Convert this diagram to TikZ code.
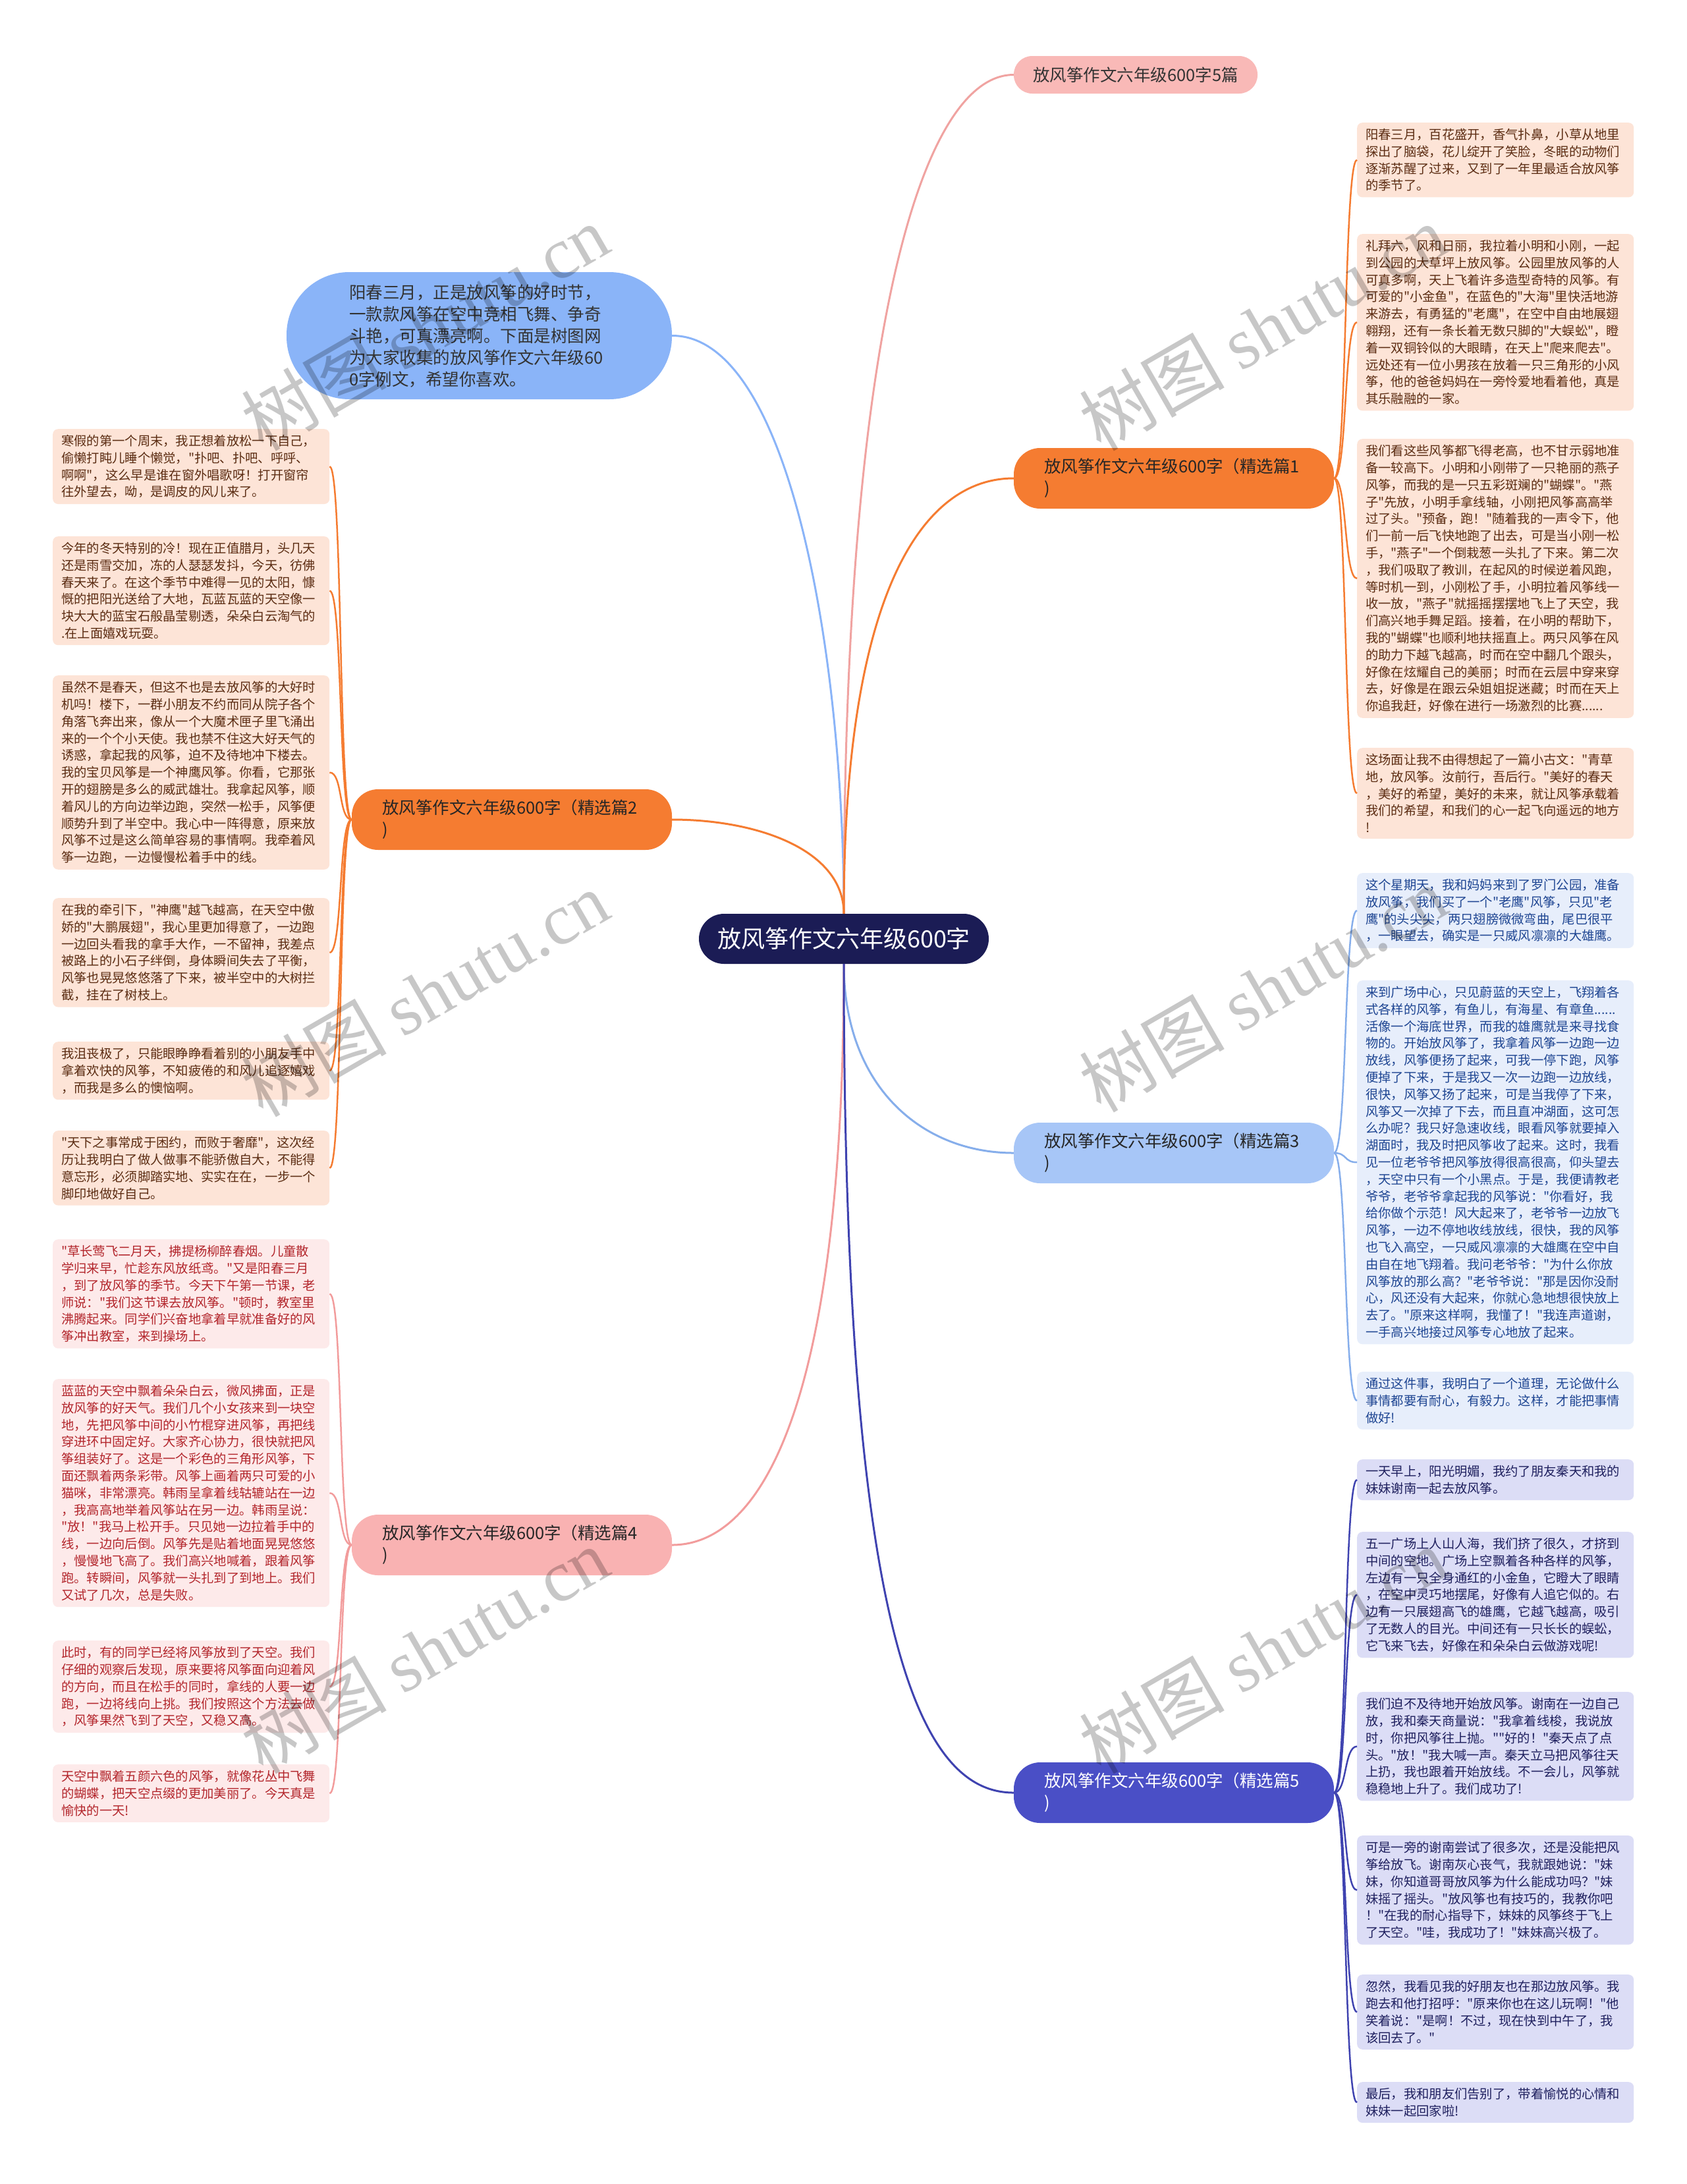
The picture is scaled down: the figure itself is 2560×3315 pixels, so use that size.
\documentclass[tikz,border=0pt]{standalone}
\usepackage{fontspec}
\setmainfont{Noto Sans CJK SC}
\newfontfamily\cjkf{Noto Sans CJK SC}
\newfontfamily\wmserif{Liberation Serif}
\definecolor{navyc}{HTML}{1B1C55}
\definecolor{introc}{HTML}{8AB4F8}
\definecolor{orangec}{HTML}{F57C31}
\definecolor{pinkc}{HTML}{F9B9B7}
\definecolor{pinklinec}{HTML}{F0A3A1}
\definecolor{lbluec}{HTML}{A7C6F7}
\definecolor{lbluelinec}{HTML}{86AEEB}
\definecolor{pinkfc}{HTML}{F9B2B2}
\definecolor{pinkflinec}{HTML}{F29C9C}
\definecolor{indigoc}{HTML}{4A4FC6}
\definecolor{indigolinec}{HTML}{3F43B0}
\definecolor{leafOf}{HTML}{FDE4D7}
\definecolor{leafOt}{HTML}{5B2C12}
\definecolor{leafRf}{HTML}{FDEAEA}
\definecolor{leafRt}{HTML}{B3262C}
\definecolor{leafBf}{HTML}{E7EEFB}
\definecolor{leafBt}{HTML}{1E4592}
\definecolor{leafPf}{HTML}{DCDDF6}
\definecolor{leafPt}{HTML}{1E1F5E}
\newcommand\leaffont{\cjkf\fontsize{19.3pt}{25.8pt}\selectfont}
\newcommand\branchfont{\cjkf\fontsize{25.5pt}{33pt}\selectfont}
\begin{document}
\begin{tikzpicture}[x=1pt,y=-1pt,
  leaf/.style={anchor=north west, rounded corners=8pt, inner xsep=13pt, inner ysep=9pt, text width=394pt, align=left, font=\leaffont},
  leafO/.style={leaf, fill=leafOf, text=leafOt},
  leafR/.style={leaf, fill=leafRf, text=leafRt},
  leafB/.style={leaf, fill=leafBf, text=leafBt},
  leafP/.style={leaf, fill=leafPf, text=leafPt},
  branchbox/.style={rounded corners=40pt, minimum height=92pt, text width=394pt, inner xsep=46pt, inner ysep=0pt, align=left, font=\branchfont},
  mainline/.style={line width=3pt},
  leafline/.style={line width=2.5pt},
  wm/.style={font=\fontsize{110pt}{110pt}\selectfont, text=black, opacity=0.22, rotate=30}
]
\fill[white] (0,0) rectangle (2560,3315);
\useasboundingbox (0,0) rectangle (2560,3315);

% central and branch nodes
\node[fill=navyc, text=white, rounded corners=38pt, minimum width=440pt, minimum height=76pt, inner sep=0pt, font=\cjkf\fontsize{36pt}{40pt}\selectfont] (c) at (1281,1425) {放风筝作文六年级600字};
\node[fill=introc, text=black!80, rounded corners=95pt, minimum height=193pt, text width=395pt, inner xsep=95pt, inner ysep=0pt, align=left, font=\branchfont] (intro) at (727.5,509.5) {阳春三月，正是放风筝的好时节，\\一款款风筝在空中竞相飞舞、争奇\\斗艳，可真漂亮啊。下面是树图网\\为大家收集的放风筝作文六年级60\\0字例文，希望你喜欢。};
\node[fill=pinkc, text=black!80, rounded corners=28pt, minimum width=370pt, minimum height=57pt, inner sep=0pt, font=\branchfont] (b0) at (1724,113.5) {放风筝作文六年级600字5篇};
\node[branchbox, fill=orangec, text=black!85] (b1) at (1782,726) {放风筝作文六年级600字（精选篇1\\)};
\node[branchbox, fill=orangec, text=black!85] (b2) at (777,1244) {放风筝作文六年级600字（精选篇2\\)};
\node[branchbox, fill=lbluec, text=black!85] (b3) at (1782,1750) {放风筝作文六年级600字（精选篇3\\)};
\node[branchbox, fill=pinkfc, text=black!85] (b4) at (777,2345) {放风筝作文六年级600字（精选篇4\\)};
\node[branchbox, fill=indigoc, text=white] (b5) at (1782,2721) {放风筝作文六年级600字（精选篇5\\)};

% left leaves, branch 2
\node[leafO] (l1) at (80,651) {寒假的第一个周末，我正想着放松一下自己，\\偷懒打盹儿睡个懒觉，"扑吧、扑吧、呼呼、\\啊啊"，这么早是谁在窗外唱歌呀！打开窗帘\\往外望去，呦，是调皮的风儿来了。};
\node[leafO] (l2) at (80,814) {今年的冬天特别的冷！现在正值腊月，头几天\\还是雨雪交加，冻的人瑟瑟发抖，今天，彷佛\\春天来了。在这个季节中难得一见的太阳，慷\\慨的把阳光送给了大地，瓦蓝瓦蓝的天空像一\\块大大的蓝宝石般晶莹剔透，朵朵白云淘气的\\.在上面嬉戏玩耍。};
\node[leafO] (l3) at (80,1025) {虽然不是春天，但这不也是去放风筝的大好时\\机吗！楼下，一群小朋友不约而同从院子各个\\角落飞奔出来，像从一个大魔术匣子里飞涌出\\来的一个个小天使。我也禁不住这大好天气的\\诱惑，拿起我的风筝，迫不及待地冲下楼去。\\我的宝贝风筝是一个神鹰风筝。你看，它那张\\开的翅膀是多么的威武雄壮。我拿起风筝，顺\\着风儿的方向边举边跑，突然一松手，风筝便\\顺势升到了半空中。我心中一阵得意，原来放\\风筝不过是这么简单容易的事情啊。我牵着风\\筝一边跑，一边慢慢松着手中的线。};
\node[leafO] (l4) at (80,1363) {在我的牵引下，"神鹰"越飞越高，在天空中傲\\娇的"大鹏展翅"，我心里更加得意了，一边跑\\一边回头看我的拿手大作，一不留神，我差点\\被路上的小石子绊倒，身体瞬间失去了平衡，\\风筝也晃晃悠悠落了下来，被半空中的大树拦\\截，挂在了树枝上。};
\node[leafO] (l5) at (80,1581) {我沮丧极了，只能眼睁睁看着别的小朋友手中\\拿着欢快的风筝，不知疲倦的和风儿追逐嬉戏\\，而我是多么的懊恼啊。};
\node[leafO] (l6) at (80,1716) {"天下之事常成于困约，而败于奢靡"，这次经\\历让我明白了做人做事不能骄傲自大，不能得\\意忘形，必须脚踏实地、实实在在，一步一个\\脚印地做好自己。};

% left leaves, branch 4
\node[leafR] (l7) at (80,1881) {"草长莺飞二月天，拂提杨柳醉春烟。儿童散\\学归来早，忙趁东风放纸鸢。"又是阳春三月\\，到了放风筝的季节。今天下午第一节课，老\\师说："我们这节课去放风筝。"顿时，教室里\\沸腾起来。同学们兴奋地拿着早就准备好的风\\筝冲出教室，来到操场上。};
\node[leafR] (l8) at (80,2093) {蓝蓝的天空中飘着朵朵白云，微风拂面，正是\\放风筝的好天气。我们几个小女孩来到一块空\\地，先把风筝中间的小竹棍穿进风筝，再把线\\穿进环中固定好。大家齐心协力，很快就把风\\筝组装好了。这是一个彩色的三角形风筝，下\\面还飘着两条彩带。风筝上画着两只可爱的小\\猫咪，非常漂亮。韩雨呈拿着线轱辘站在一边\\，我高高地举着风筝站在另一边。韩雨呈说：\\"放！"我马上松开手。只见她一边拉着手中的\\线，一边向后倒。风筝先是贴着地面晃晃悠悠\\，慢慢地飞高了。我们高兴地喊着，跟着风筝\\跑。转瞬间，风筝就一头扎到了到地上。我们\\又试了几次，总是失败。};
\node[leafR] (l9) at (80,2490) {此时，有的同学已经将风筝放到了天空。我们\\仔细的观察后发现，原来要将风筝面向迎着风\\的方向，而且在松手的同时，拿线的人要一边\\跑，一边将线向上挑。我们按照这个方法去做\\，风筝果然飞到了天空，又稳又高。};
\node[leafR] (l10) at (80,2678) {天空中飘着五颜六色的风筝，就像花丛中飞舞\\的蝴蝶，把天空点缀的更加美丽了。今天真是\\愉快的一天!};

% right leaves, branch 1
\node[leafO] (r1) at (2060,186) {阳春三月，百花盛开，香气扑鼻，小草从地里\\探出了脑袋，花儿绽开了笑脸，冬眠的动物们\\逐渐苏醒了过来，又到了一年里最适合放风筝\\的季节了。};
\node[leafO] (r2) at (2060,355) {礼拜六，风和日丽，我拉着小明和小刚，一起\\到公园的大草坪上放风筝。公园里放风筝的人\\可真多啊，天上飞着许多造型奇特的风筝。有\\可爱的"小金鱼"，在蓝色的"大海"里快活地游\\来游去，有勇猛的"老鹰"，在空中自由地展翅\\翱翔，还有一条长着无数只脚的"大蜈蚣"，瞪\\着一双铜铃似的大眼睛，在天上"爬来爬去"。\\远处还有一位小男孩在放着一只三角形的小风\\筝，他的爸爸妈妈在一旁怜爱地看着他，真是\\其乐融融的一家。};
\node[leafO] (r3) at (2060,666) {我们看这些风筝都飞得老高，也不甘示弱地准\\备一较高下。小明和小刚带了一只艳丽的燕子\\风筝，而我的是一只五彩斑斓的"蝴蝶"。"燕\\子"先放，小明手拿线轴，小刚把风筝高高举\\过了头。"预备，跑！"随着我的一声令下，他\\们一前一后飞快地跑了出去，可是当小刚一松\\手，"燕子"一个倒栽葱一头扎了下来。第二次\\，我们吸取了教训，在起风的时候逆着风跑，\\等时机一到，小刚松了手，小明拉着风筝线一\\收一放，"燕子"就摇摇摆摆地飞上了天空，我\\们高兴地手舞足蹈。接着，在小明的帮助下，\\我的"蝴蝶"也顺利地扶摇直上。两只风筝在风\\的助力下越飞越高，时而在空中翻几个跟头，\\好像在炫耀自己的美丽；时而在云层中穿来穿\\去，好像是在跟云朵姐姐捉迷藏；时而在天上\\你追我赶，好像在进行一场激烈的比赛......};
\node[leafO] (r4) at (2060,1135) {这场面让我不由得想起了一篇小古文："青草\\地，放风筝。汝前行，吾后行。"美好的春天\\，美好的希望，美好的未来，就让风筝承载着\\我们的希望，和我们的心一起飞向遥远的地方\\!};

% right leaves, branch 3
\node[leafB] (r5) at (2060,1325) {这个星期天，我和妈妈来到了罗门公园，准备\\放风筝，我们买了一个"老鹰"风筝，只见"老\\鹰"的头尖尖，两只翅膀微微弯曲，尾巴很平\\，一眼望去，确实是一只威风凛凛的大雄鹰。};
\node[leafB] (r6) at (2060,1488) {来到广场中心，只见蔚蓝的天空上，飞翔着各\\式各样的风筝，有鱼儿，有海星、有章鱼......\\活像一个海底世界，而我的雄鹰就是来寻找食\\物的。开始放风筝了，我拿着风筝一边跑一边\\放线，风筝便扬了起来，可我一停下跑，风筝\\便掉了下来，于是我又一次一边跑一边放线，\\很快，风筝又扬了起来，可是当我停了下来，\\风筝又一次掉了下去，而且直冲湖面，这可怎\\么办呢？我只好急速收线，眼看风筝就要掉入\\湖面时，我及时把风筝收了起来。这时，我看\\见一位老爷爷把风筝放得很高很高，仰头望去\\，天空中只有一个小黑点。于是，我便请教老\\爷爷，老爷爷拿起我的风筝说："你看好，我\\给你做个示范！风大起来了，老爷爷一边放飞\\风筝，一边不停地收线放线，很快，我的风筝\\也飞入高空，一只威风凛凛的大雄鹰在空中自\\由自在地飞翔着。我问老爷爷："为什么你放\\风筝放的那么高？"老爷爷说："那是因你没耐\\心，风还没有大起来，你就心急地想很快放上\\去了。"原来这样啊，我懂了！"我连声道谢，\\一手高兴地接过风筝专心地放了起来。};
\node[leafB] (r7) at (2060,2082) {通过这件事，我明白了一个道理，无论做什么\\事情都要有耐心，有毅力。这样，才能把事情\\做好!};

% right leaves, branch 5
\node[leafP] (r8) at (2060,2215) {一天早上，阳光明媚，我约了朋友秦天和我的\\妹妹谢南一起去放风筝。};
\node[leafP] (r9) at (2060,2325) {五一广场上人山人海，我们挤了很久，才挤到\\中间的空地。广场上空飘着各种各样的风筝，\\左边有一只全身通红的小金鱼，它瞪大了眼睛\\，在空中灵巧地摆尾，好像有人追它似的。右\\边有一只展翅高飞的雄鹰，它越飞越高，吸引\\了无数人的目光。中间还有一只长长的蜈蚣，\\它飞来飞去，好像在和朵朵白云做游戏呢!};
\node[leafP] (r10) at (2060,2568) {我们迫不及待地开始放风筝。谢南在一边自己\\放，我和秦天商量说："我拿着线梭，我说放\\时，你把风筝往上抛。""好的！"秦天点了点\\头。"放！"我大喊一声。秦天立马把风筝往天\\上扔，我也跟着开始放线。不一会儿，风筝就\\稳稳地上升了。我们成功了!};
\node[leafP] (r11) at (2060,2786) {可是一旁的谢南尝试了很多次，还是没能把风\\筝给放飞。谢南灰心丧气，我就跟她说："妹\\妹，你知道哥哥放风筝为什么能成功吗？"妹\\妹摇了摇头。"放风筝也有技巧的，我教你吧\\！"在我的耐心指导下，妹妹的风筝终于飞上\\了天空。"哇，我成功了！"妹妹高兴极了。};
\node[leafP] (r12) at (2060,2997) {忽然，我看见我的好朋友也在那边放风筝。我\\跑去和他打招呼："原来你也在这儿玩啊！"他\\笑着说："是啊！不过，现在快到中午了，我\\该回去了。"};
\node[leafP] (r13) at (2060,3160) {最后，我和朋友们告别了，带着愉悦的心情和\\妹妹一起回家啦!};

% main connectors
\draw[mainline, introc] (c.north) .. controls (1281,1000) and (1200,509) .. (intro.east);
\draw[mainline, pinklinec] (c.north) .. controls (1281,500) and (1400,113.5) .. (b0.west);
\draw[mainline, orangec] (c.north) .. controls (1281,900) and (1400,726) .. (b1.west);
\draw[mainline, orangec] (c.north) .. controls (1281,1290) and (1150,1244) .. (b2.east);
\draw[mainline, lbluelinec] (c.south) .. controls (1281,1650) and (1400,1750) .. (b3.west);
\draw[mainline, pinkflinec] (c.south) .. controls (1281,2150) and (1150,2345) .. (b4.east);
\draw[mainline, indigolinec] (c.south) .. controls (1281,2500) and (1400,2721) .. (b5.west);

% leaf connectors
\foreach \n in {r1,r2,r3,r4}
  \draw[leafline, orangec] (b1.east) .. controls +(20,0) and +(-20,0) .. (\n.west);
\foreach \n in {l1,l2,l3,l4,l5,l6}
  \draw[leafline, orangec] (b2.west) .. controls +(-20,0) and +(20,0) .. (\n.east);
\foreach \n in {r5,r6,r7}
  \draw[leafline, lbluelinec] (b3.east) .. controls +(20,0) and +(-20,0) .. (\n.west);
\foreach \n in {l7,l8,l9,l10}
  \draw[leafline, pinkflinec] (b4.west) .. controls +(-20,0) and +(20,0) .. (\n.east);
\foreach \n in {r8,r9,r10,r11,r12,r13}
  \draw[leafline, indigolinec] (b5.east) .. controls +(20,0) and +(-20,0) .. (\n.west);

% watermarks
\node[wm] (w1) at (645,497) {树图 {\wmserif shutu.cn}};
\node[wm] (w2) at (1917,497) {树图 {\wmserif shutu.cn}};
\node[wm] (w3) at (645,1508) {树图 {\wmserif shutu.cn}};
\node[wm] (w4) at (1917,1501) {树图 {\wmserif shutu.cn}};
\node[wm] (w5) at (645,2505) {树图 {\wmserif shutu.cn}};
\node[wm] (w6) at (1917,2505) {树图 {\wmserif shutu.cn}};
\end{tikzpicture}
\end{document}
